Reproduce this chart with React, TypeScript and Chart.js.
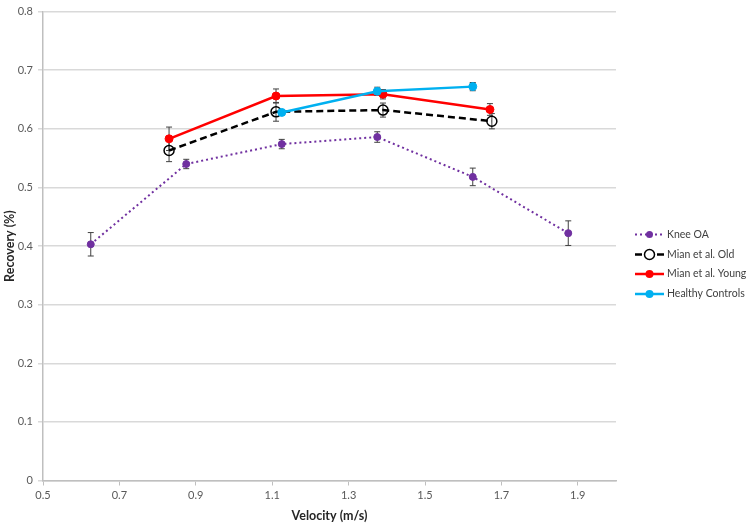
import React, { useEffect, useRef } from "react";
import { Chart, registerables } from "chart.js";

Chart.register(...registerables);

const xTickValues = [0.5, 0.7, 0.9, 1.1, 1.3, 1.5, 1.7, 1.9];
const yTickValues = [0, 0.1, 0.2, 0.3, 0.4, 0.5, 0.6, 0.7, 0.8];

const seriesNames = ["Knee OA", "Mian et al. Old", "Mian et al. Young", "Healthy Controls"];

const kneeX = [0.625, 0.875, 1.125, 1.375, 1.625, 1.875];
const kneeY = [0.403, 0.54, 0.574, 0.586, 0.518, 0.422];
const kneeErr = [0.02, 0.008, 0.008, 0.009, 0.015, 0.021];

const oldX = [0.83, 1.11, 1.39, 1.675];
const oldY = [0.563, 0.629, 0.632, 0.613];
const oldErr = [0.019, 0.016, 0.012, 0.013];

const youngX = [0.83, 1.11, 1.39, 1.67];
const youngY = [0.583, 0.656, 0.659, 0.633];
const youngErr = [0.02, 0.012, 0.008, 0.01];

const healthyX = [1.125, 1.375, 1.625];
const healthyY = [0.628, 0.664, 0.672];
const healthyErr = [0.004, 0.007, 0.007];

const pts = (xs: number[], ys: number[]) => xs.map((x, i) => ({ x, y: ys[i] }));

const FONT = "Lato, 'Open Sans', 'Liberation Sans', sans-serif";

const errorBarPlugin = {
  id: "errorBars",
  beforeDatasetsDraw(chart: any) {
    const ctx = chart.ctx;
    const xs = chart.scales.x;
    const ys = chart.scales.y;
    ctx.save();
    ctx.strokeStyle = "#404040";
    ctx.lineWidth = 1;
    chart.data.datasets.forEach((ds: any) => {
      const errs: number[] = ds.errors || [];
      ds.data.forEach((p: any, i: number) => {
        const e = errs[i];
        if (!e) return;
        const px = xs.getPixelForValue(p.x);
        const top = ys.getPixelForValue(p.y + e);
        const bot = ys.getPixelForValue(p.y - e);
        ctx.beginPath();
        ctx.moveTo(px, top);
        ctx.lineTo(px, bot);
        ctx.moveTo(px - 3, top);
        ctx.lineTo(px + 3, top);
        ctx.moveTo(px - 3, bot);
        ctx.lineTo(px + 3, bot);
        ctx.stroke();
      });
    });
    ctx.restore();
  },
};

const legendPlugin = {
  id: "customLegend",
  afterDraw(chart: any) {
    const ctx = chart.ctx;
    ctx.save();
    const x0 = 635;
    const x1 = 664;
    const ys = [234.5, 254.5, 274, 294];
    chart.data.datasets.forEach((ds: any, i: number) => {
      const y = ys[i];
      ctx.beginPath();
      ctx.setLineDash(ds.borderDash || []);
      ctx.strokeStyle = ds.borderColor;
      ctx.lineWidth = ds.borderWidth;
      ctx.moveTo(x0, y);
      ctx.lineTo(x1, y);
      ctx.stroke();
      ctx.setLineDash([]);
      ctx.beginPath();
      ctx.arc((x0 + x1) / 2, y, ds.pointRadius, 0, Math.PI * 2);
      if (ds.pointBackgroundColor !== "rgba(0,0,0,0)") {
        ctx.fillStyle = ds.pointBackgroundColor;
        ctx.fill();
      } else {
        ctx.fillStyle = "#ffffff";
        ctx.fill();
        ctx.lineWidth = ds.pointBorderWidth;
        ctx.strokeStyle = ds.pointBorderColor;
        ctx.stroke();
      }
      ctx.fillStyle = "#404040";
      ctx.font = `10.5px ${FONT}`;
      ctx.textBaseline = "middle";
      ctx.textAlign = "left";
      ctx.fillText(ds.label, 667, y);
    });
    ctx.restore();
  },
};

export default function App() {
  const ref = useRef<HTMLCanvasElement>(null);
  useEffect(() => {
    if (!ref.current) return;
    const chart = new Chart(ref.current, {
      type: "line",
      data: {
        datasets: [
          {
            label: seriesNames[0],
            data: pts(kneeX, kneeY),
            errors: kneeErr,
            borderColor: "#7030a0",
            backgroundColor: "#7030a0",
            borderWidth: 2,
            borderDash: [2, 3],
            pointRadius: 3.5,
            pointBackgroundColor: "#7030a0",
            pointBorderColor: "#7030a0",
            pointBorderWidth: 1,
            order: 4,
          } as any,
          {
            label: seriesNames[1],
            data: pts(oldX, oldY),
            errors: oldErr,
            borderColor: "#000000",
            backgroundColor: "#000000",
            borderWidth: 2.5,
            borderDash: [7, 4],
            pointRadius: 5,
            pointBackgroundColor: "rgba(0,0,0,0)",
            pointBorderColor: "#000000",
            pointBorderWidth: 1.5,
            order: 3,
          } as any,
          {
            label: seriesNames[2],
            data: pts(youngX, youngY),
            errors: youngErr,
            borderColor: "#ff0000",
            backgroundColor: "#ff0000",
            borderWidth: 2.5,
            pointRadius: 4,
            pointBackgroundColor: "#ff0000",
            pointBorderColor: "#ff0000",
            pointBorderWidth: 1,
            order: 2,
          } as any,
          {
            label: seriesNames[3],
            data: pts(healthyX, healthyY),
            errors: healthyErr,
            borderColor: "#00b0f0",
            backgroundColor: "#00b0f0",
            borderWidth: 2.5,
            pointRadius: 4,
            pointBackgroundColor: "#00b0f0",
            pointBorderColor: "#00b0f0",
            pointBorderWidth: 1,
            order: 1,
          } as any,
        ],
      },
      options: {
        animation: false,
        responsive: true,
        maintainAspectRatio: false,
        layout: { padding: { left: 0, right: 134, top: 8, bottom: 0 } },
        plugins: {
          legend: { display: false },
          tooltip: { enabled: false },
        },
        scales: {
          x: {
            type: "linear",
            min: 0.5,
            max: 2.0,
            afterBuildTicks: (axis: any) => {
              axis.ticks = xTickValues.map((v) => ({ value: v }));
            },
            afterFit: (axis: any) => {
              axis.height = 42.5;
            },
            grid: {
              drawOnChartArea: false,
              drawTicks: true,
              tickLength: 5,
              color: "#bfbfbf",
            },
            border: { color: "#bfbfbf", width: 1.5 },
            ticks: {
              padding: 3,
              color: "#595959",
              font: { family: FONT, size: 11 },
              callback: (v: any) => Number(v).toFixed(1),
              maxRotation: 0,
              autoSkip: false,
            },
            title: {
              display: true,
              text: "Velocity (m/s)",
              color: "#262626",
              font: { family: FONT, size: 12.5, weight: "bold" },
              padding: { top: 2, bottom: 0 },
            },
          },
          y: {
            type: "linear",
            min: 0,
            max: 0.8,
            afterBuildTicks: (axis: any) => {
              axis.ticks = yTickValues.map((v) => ({ value: v }));
            },
            afterFit: (axis: any) => {
              axis.width = 43;
            },
            grid: {
              color: "#d9d9d9",
              lineWidth: 1.5,
              drawTicks: true,
              tickLength: 5,
            },
            border: { color: "#bfbfbf", width: 1.5 },
            ticks: {
              padding: 5,
              color: "#595959",
              font: { family: FONT, size: 11 },
              callback: (v: any) => String(Math.round(Number(v) * 10) / 10),
              autoSkip: false,
            },
            title: {
              display: true,
              text: "Recovery (%)",
              color: "#262626",
              font: { family: FONT, size: 12.5, weight: "bold" },
              padding: { top: 2, bottom: 0 },
            },
          },
        },
      } as any,
      plugins: [errorBarPlugin, legendPlugin],
    });
    return () => chart.destroy();
  }, []);
  return (
    <div style={{ position: "absolute", left: 0, top: 0, width: 750, height: 523 }}>
      <canvas ref={ref} />
    </div>
  );
}
